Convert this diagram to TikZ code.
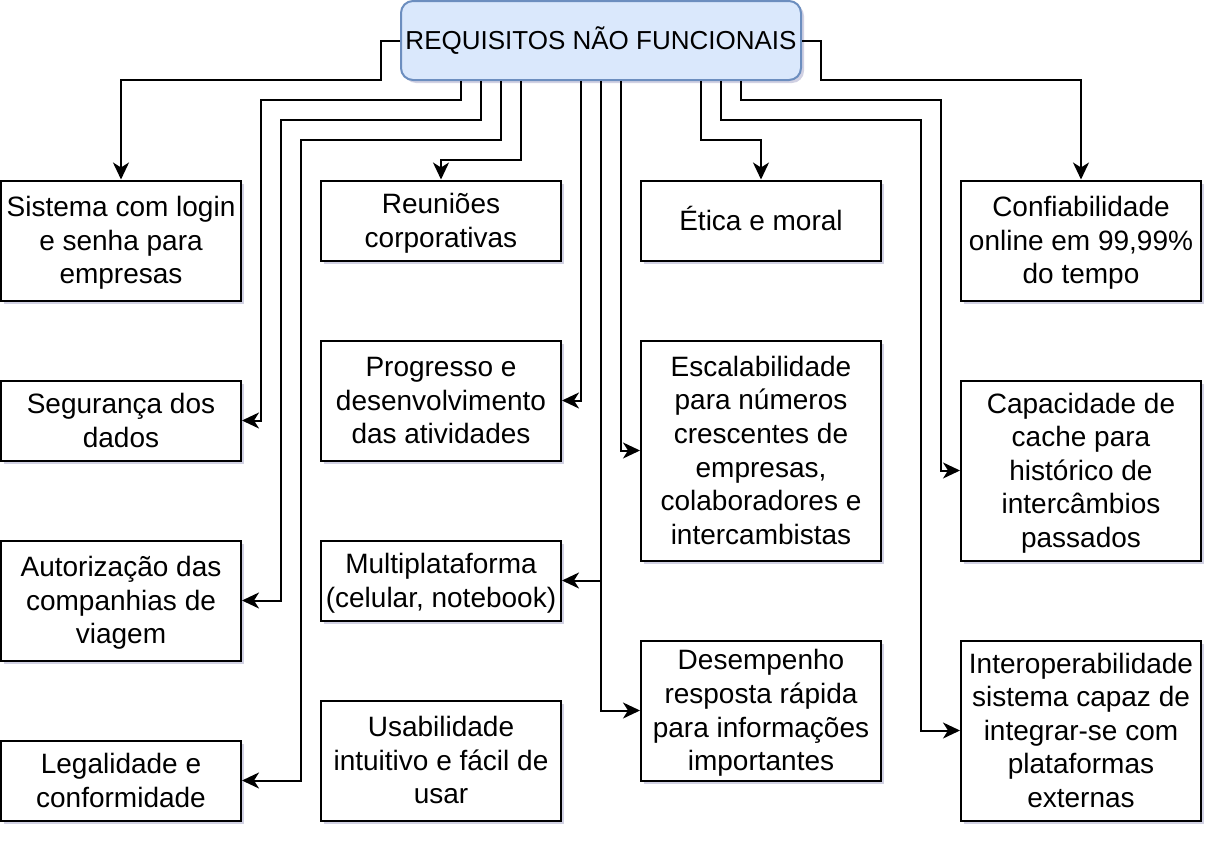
\documentclass[tikz,border=0pt]{standalone}
\usepackage{fontspec}
\setmainfont{Liberation Sans}
\usetikzlibrary{arrows.meta,shadows}
\definecolor{titlefill}{HTML}{DAE8FC}
\definecolor{titledraw}{HTML}{6C8EBF}
\begin{document}
\begin{tikzpicture}[x=1pt,y=-1pt,
  box/.style={draw=black, line width=2pt, fill=white, minimum width=240pt, inner sep=0pt, align=center,
    font=\fontsize{28}{33.6}\selectfont, text depth=7.1pt,
    drop shadow={opacity=0.18, shadow xshift=3pt, shadow yshift=-3pt, fill=black!60!blue}},
  lineone/.style={text height=26.5pt},
  linetwo/.style={text height=60.1pt},
  linethree/.style={text height=93.7pt},
  linefour/.style={text height=127.3pt},
  linefive/.style={text height=160.9pt},
  linesix/.style={text height=194.5pt},
  titlebox/.style={draw=titledraw, fill=titlefill, line width=2pt, rounded corners=12pt,
    minimum width=400pt, minimum height=79pt, inner sep=0pt, align=center,
    font=\fontsize{26}{31.2}\selectfont, text height=24.6pt, text depth=6.6pt,
    drop shadow={opacity=0.18, shadow xshift=3pt, shadow yshift=-3pt, fill=black!60!blue}},
  arr/.style={line width=2pt, -{Stealth[length=17pt,width=16pt,inset=5pt]}}
]
\path[use as bounding box, fill=white] (0,0) rectangle (1224,846);

\node[titlebox] (T) at (601,40.5) {REQUISITOS NÃO FUNCIONAIS};

% column 1
\node[box, linethree, minimum height=120pt] (sis) at (121,240.5) {Sistema com login\\e senha para\\empresas};
\node[box, linetwo, minimum height=80pt] (seg) at (121,420.5) {Segurança dos\\dados};
\node[box, linethree, minimum height=120pt] (aut) at (121,600.5) {Autorização das\\companhias de\\viagem};
\node[box, linetwo, minimum height=80pt] (leg) at (121,780.5) {Legalidade e\\conformidade};

% column 2
\node[box, linetwo, minimum height=80pt] (reu) at (441,220.5) {Reuniões\\corporativas};
\node[box, linethree, minimum height=120pt] (prog) at (441,400.5) {Progresso e\\desenvolvimento\\das atividades};
\node[box, linetwo, minimum height=80pt] (multi) at (441,580.5) {Multiplataforma\\(celular, notebook)};
\node[box, linethree, minimum height=120pt] (usa) at (441,760.5) {Usabilidade\\intuitivo e fácil de\\usar};

% column 3
\node[box, lineone, minimum height=80pt] (eti) at (761,220.5) {Ética e moral};
\node[box, linesix, minimum height=220pt] (esc) at (761,450.5) {Escalabilidade\\para números\\crescentes de\\empresas,\\colaboradores e\\intercambistas};
\node[box, linefour, minimum height=140pt] (des) at (761,710.5) {Desempenho\\resposta rápida\\para informações\\importantes};

% column 4
\node[box, linethree, minimum height=120pt] (conf) at (1081,240.5) {Confiabilidade\\online em 99,99\%\\do tempo};
\node[box, linefive, minimum height=180pt] (cache) at (1081,470.5) {Capacidade de\\cache para\\histórico de\\intercâmbios\\passados};
\node[box, linefive, minimum height=180pt] (inter) at (1081,730.5) {Interoperabilidade\\sistema capaz de\\integrar-se com\\plataformas\\externas};

% connectors
\draw[arr] (T.west) -| (381,80) -| (sis.north);
\draw[arr] ([xshift=-140pt]T.south) |- (261,100) |- (seg.east);
\draw[arr] ([xshift=-120pt]T.south) |- (281,120) |- (aut.east);
\draw[arr] ([xshift=-100pt]T.south) |- (301,140) |- (leg.east);
\draw[arr] ([xshift=-80pt]T.south) |- (441,160) -- (reu.north);
\draw[arr] ([xshift=-20pt]T.south) |- (prog.east);
\draw[arr] (T.south) |- (multi.east);
\draw[arr] (T.south) |- (des.west);
\draw[arr] ([xshift=20pt]T.south) |- (esc.west);
\draw[arr] ([xshift=100pt]T.south) |- (761,140) -- (eti.north);
\draw[arr] ([xshift=120pt]T.south) |- (921,120) |- (inter.west);
\draw[arr] ([xshift=140pt]T.south) |- (941,100) |- (cache.west);
\draw[arr] (T.east) -| (821,80) -| (conf.north);
\end{tikzpicture}
\end{document}
